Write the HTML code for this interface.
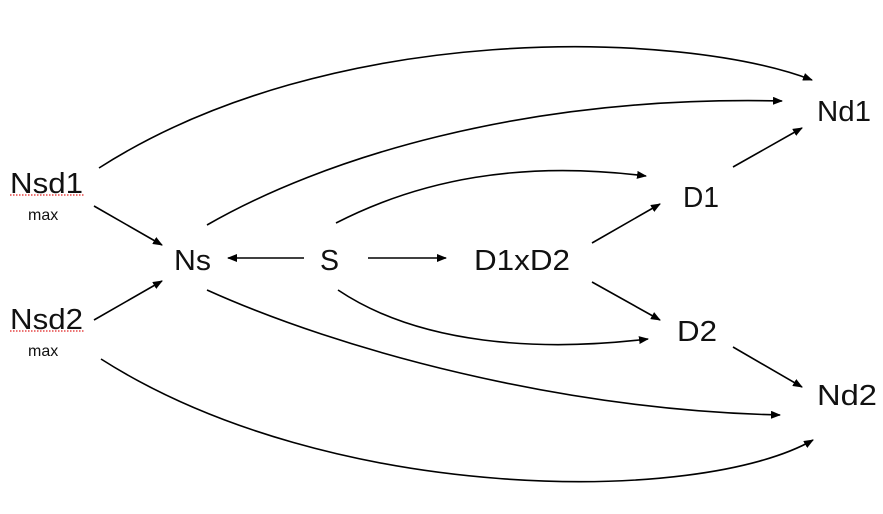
<!DOCTYPE html>
<html><head><meta charset="utf-8"><style>
html,body{margin:0;padding:0;background:#fff;}
svg{display:block;}
text{font-family:"Liberation Sans",sans-serif;fill:#111;}
</style></head><body>
<svg width="883" height="514" viewBox="0 0 883 514" xmlns="http://www.w3.org/2000/svg">
<defs>
<marker id="a" markerWidth="10" markerHeight="8" refX="9" refY="4" orient="auto" markerUnits="userSpaceOnUse">
<path d="M0,0 L10,4 L0,8 Z" fill="#000"/>
</marker>
</defs>
<g stroke="#000" stroke-width="1.6" fill="none" marker-end="url(#a)">
<path d="M99,168 C330,20 680,30 812,80"/>
<path d="M207,225 C320,160 520,95 782,101"/>
<path d="M336,223 C420,180 520,160 646,176"/>
<path d="M338,290 C420,345 540,352 648,339"/>
<path d="M207,290 C340,350 560,410 780,415"/>
<path d="M101,359 C330,505 700,505 813,440"/>
<line x1="94" y1="206" x2="162" y2="245"/>
<line x1="94" y1="320" x2="162" y2="281"/>
<line x1="304" y1="258" x2="228" y2="258"/>
<line x1="368" y1="258" x2="446" y2="258"/>
<line x1="592" y1="243" x2="660" y2="204"/>
<line x1="592" y1="282" x2="660" y2="320"/>
<line x1="733" y1="167" x2="802" y2="128"/>
<line x1="733" y1="347" x2="802" y2="387"/>
</g>
<g font-size="29">
<text x="10" y="193" textLength="73" lengthAdjust="spacingAndGlyphs">Nsd1</text>
<text x="10" y="329" textLength="73" lengthAdjust="spacingAndGlyphs">Nsd2</text>
<text x="174" y="270" textLength="37" lengthAdjust="spacingAndGlyphs">Ns</text>
<text x="320" y="270" textLength="19" lengthAdjust="spacingAndGlyphs">S</text>
<text x="474" y="270" textLength="96" lengthAdjust="spacingAndGlyphs">D1xD2</text>
<text x="683" y="207" textLength="36" lengthAdjust="spacingAndGlyphs">D1</text>
<text x="677" y="341" textLength="40" lengthAdjust="spacingAndGlyphs">D2</text>
<text x="817" y="121" textLength="54" lengthAdjust="spacingAndGlyphs">Nd1</text>
<text x="817" y="405" textLength="60" lengthAdjust="spacingAndGlyphs">Nd2</text>
</g>
<g font-size="16">
<text x="28" y="220">max</text>
<text x="28" y="356">max</text>
</g>
<g stroke="#e02020" stroke-width="1.2" stroke-dasharray="1.5,1.5">
<line x1="10" y1="195" x2="84" y2="195"/>
<line x1="10" y1="331" x2="84" y2="331"/>
</g>
</svg>
</body></html>
